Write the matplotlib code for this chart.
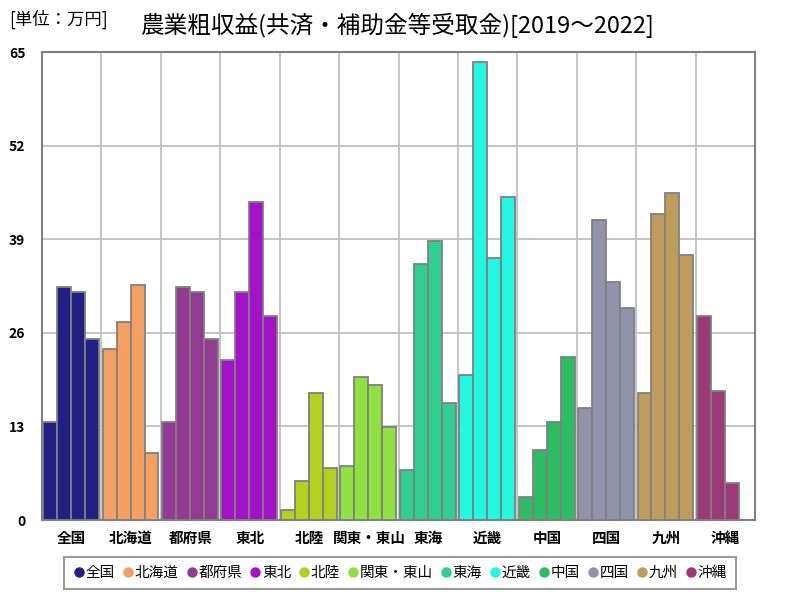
import numpy as np
import matplotlib
matplotlib.use("Agg")
import matplotlib.pyplot as plt
from matplotlib.lines import Line2D

plt.rcParams['font.family'] = ['Noto Sans CJK JP', 'DejaVu Sans']

# データ (2019, 2020, 2021, 2022)
regions = ["全国", "北海道", "都府県", "東北", "北陸", "関東・東山",
           "東海", "近畿", "中国", "四国", "九州", "沖縄"]
values = [
    [13.6, 32.3, 31.7, 25.2],
    [23.8, 27.5, 32.7, 9.3],
    [13.6, 32.3, 31.7, 25.2],
    [22.2, 31.7, 44.1, 28.3],
    [1.4, 5.4, 17.6, 7.2],
    [7.5, 19.9, 18.8, 12.9],
    [7.0, 35.5, 38.8, 16.2],
    [20.2, 63.6, 36.4, 44.8],
    [3.2, 9.7, 13.6, 22.6],
    [15.5, 41.7, 33.1, 29.4],
    [17.6, 42.5, 45.4, 36.8],
    [28.3, 17.9, 5.2],
]
colors = ["#221f85", "#f5a060", "#933a93", "#a312c8", "#b3d11e", "#8fe142",
          "#2ecf90", "#22f8e2", "#2cbd62", "#9193ab", "#bf9b5c", "#9c3a78"]
yticks = [0, 13, 26, 39, 52, 65]

fig = plt.figure(figsize=(8, 6), dpi=100)
ax = fig.add_axes([0.0525, 0.1333, 0.8915, 0.78])

bw = 0.235
for i, (vals, c) in enumerate(zip(values, colors)):
    x = i + 0.02 + bw * np.arange(len(vals))
    ax.bar(x, vals, width=bw, align="edge", color=c,
           edgecolor="#808080", linewidth=1.3, zorder=3)

ax.set_xlim(0, len(regions))
ax.set_ylim(0, 65)
ax.set_yticks(yticks)
ax.set_yticklabels([str(v) for v in yticks], fontsize=10, fontweight="bold")
ax.set_xticks(np.arange(len(regions)) + 0.5)
ax.set_xticklabels(regions, fontsize=10.5, fontweight="bold")
ax.tick_params(axis="both", length=0, pad=7)
ax.tick_params(axis="y", pad=12)

for v in yticks[1:-1]:
    ax.axhline(v, color="#bfbfbf", linewidth=1.3, zorder=1)
for k in range(1, len(regions)):
    ax.axvline(k, color="#bfbfbf", linewidth=1.3, zorder=1)
for s in ax.spines.values():
    s.set_color("#808080")
    s.set_linewidth(1.5)

fig.text(0.012, 0.967, "[単位：万円]", fontsize=12.5, va="center", ha="left")
fig.text(0.496, 0.957, "農業粗収益(共済・補助金等受取金)[2019～2022]",
         fontsize=17, va="center", ha="center")

handles = [Line2D([0], [0], marker="o", linestyle="", markersize=6.5,
                  markerfacecolor=c, markeredgecolor=c) for c in colors]
leg = fig.legend(handles, regions, loc="center", bbox_to_anchor=(0.5, 0.045),
                 ncol=len(regions), fontsize=10.5, frameon=True, fancybox=False,
                 handletextpad=0.05, columnspacing=0.5, handlelength=0.8,
                 borderpad=0.65)
leg.get_frame().set_edgecolor("#808080")
leg.get_frame().set_linewidth(1.5)

fig.savefig("out.png", dpi=100)
